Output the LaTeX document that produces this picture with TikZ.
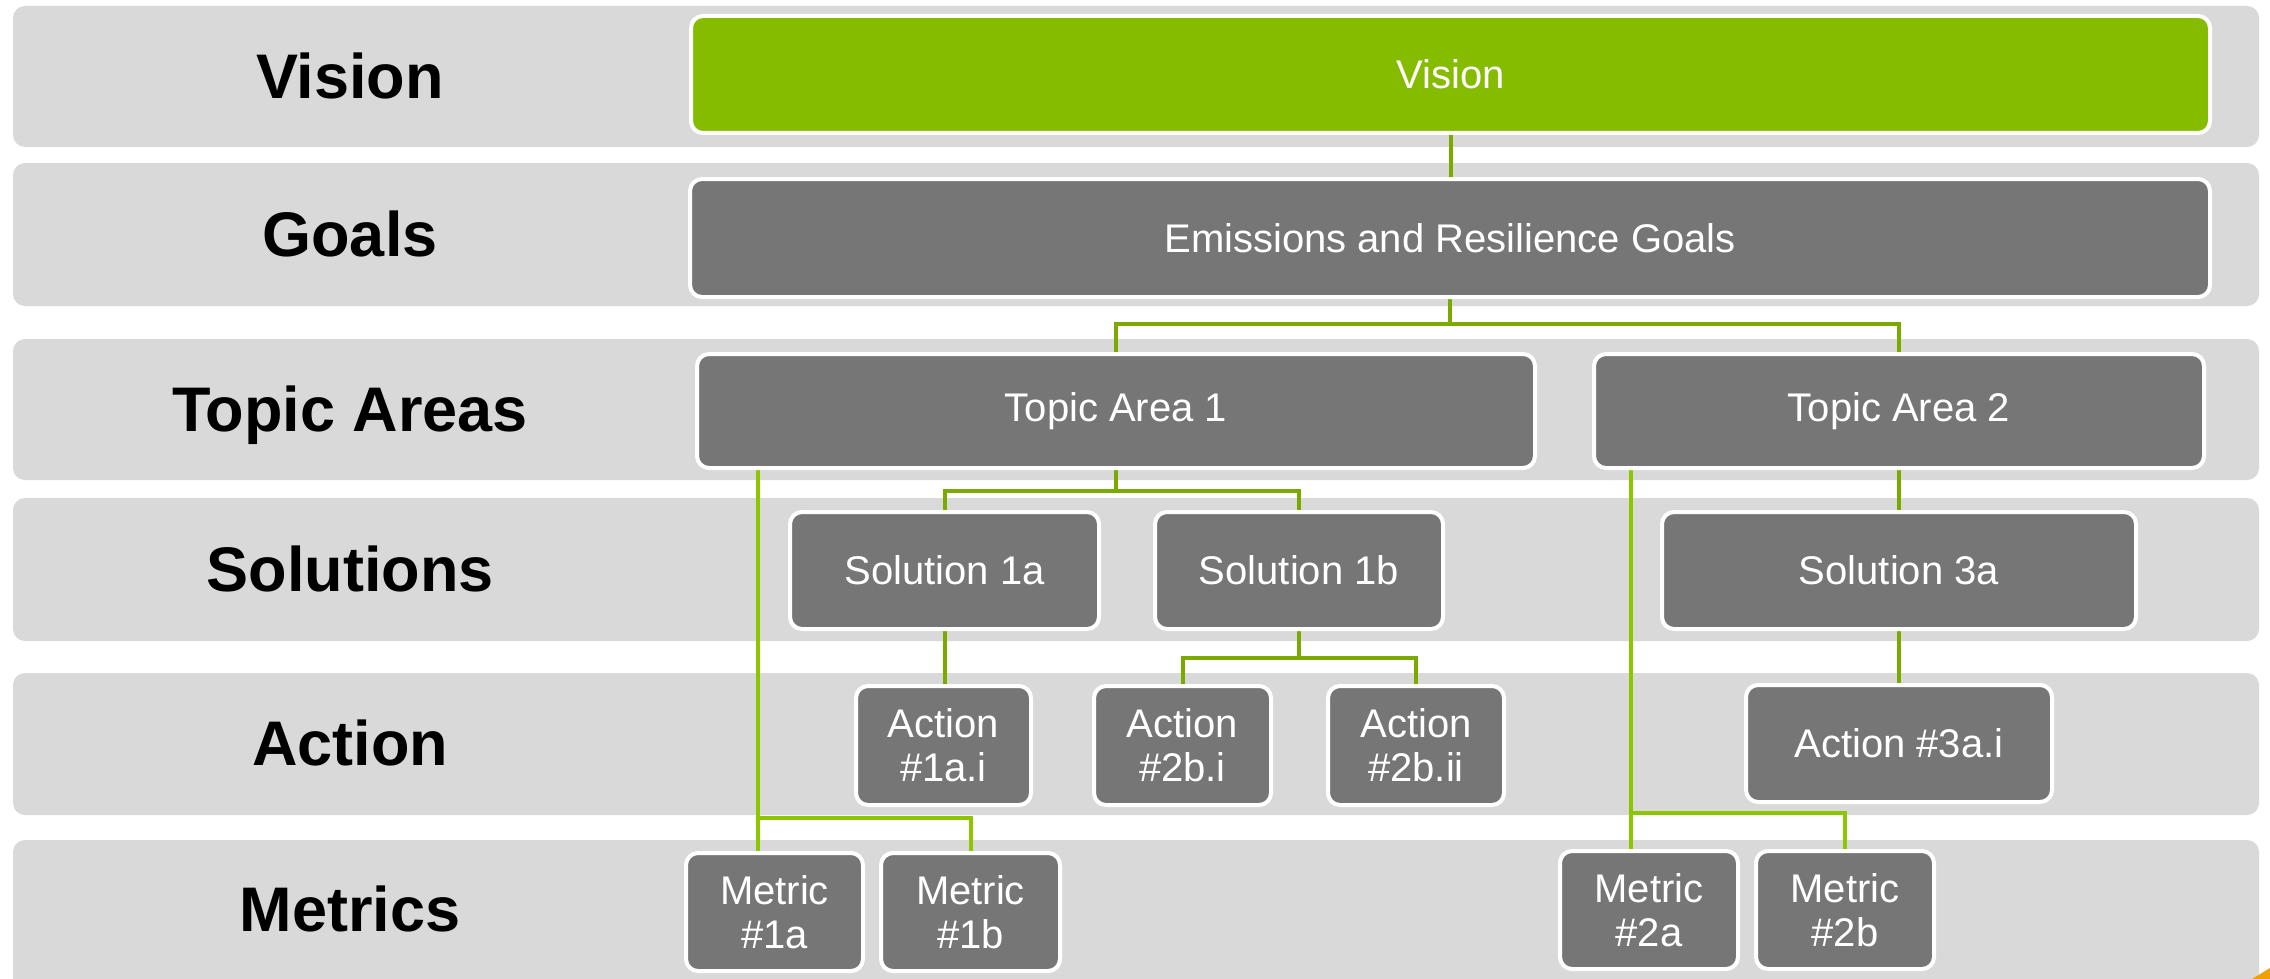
\documentclass[tikz,border=0pt]{standalone}
\usepackage{fontspec}
\setmainfont{Liberation Sans}
\definecolor{bandgrey}{RGB}{217,217,217}
\definecolor{boxgrey}{RGB}{118,118,118}
\definecolor{visgreen}{RGB}{134,188,0}
\definecolor{lngreen}{RGB}{122,170,0}
\definecolor{mgreen}{RGB}{140,198,0}
\definecolor{cornerorange}{RGB}{240,160,0}
\pgfdeclarelayer{bg}
\pgfdeclarelayer{lines}
\pgfsetlayers{bg,lines,main}
\tikzset{
  band/.style={fill=bandgrey, rounded corners=6pt},
  rowlabel/.style={font=\bfseries\fontsize{31.5}{36}\selectfont, text=black, inner sep=0pt, text height=22.6pt, text depth=0pt},
  box/.style={draw=white, line width=2pt, fill=boxgrey, rounded corners=6pt, text=white,
    font=\fontsize{20}{22}\selectfont, align=center, inner sep=0pt},
  greenbox/.style={box, fill=visgreen},
  conn/.style={draw=lngreen, line width=2pt},
  mconn/.style={draw=mgreen, line width=2pt}
}
\begin{document}
\begin{tikzpicture}[x=0.5pt,y=-0.5pt]
\useasboundingbox (0,0) rectangle (2270,979);
\begin{pgfonlayer}{bg}
\clip (0,0) rectangle (2270,979);
\fill[white] (0,0) rectangle (2270,979);
\fill[band] (13,6) rectangle (2259,147);
\fill[band] (13,163) rectangle (2259,306);
\fill[band] (13,339) rectangle (2259,480);
\fill[band] (13,498) rectangle (2259,641);
\fill[band] (13,673) rectangle (2259,815);
\fill[band] (13,840) rectangle (2259,1000);
\fill[cornerorange] (2252,979) -- (2270,968) -- (2270,979) -- cycle;
\end{pgfonlayer}

% row labels
\node[rowlabel] (lvision) at (350,76) {Vision};
\node[rowlabel] (lgoals) at (350,234) {Goals};
\node[rowlabel] (ltopic) at (350,409) {Topic Areas};
\node[rowlabel] (lsol) at (350,569) {Solutions};
\node[rowlabel] (lact) at (350,743) {Action};
\node[rowlabel] (lmet) at (350,909) {Metrics};

% boxes
\node[greenbox, minimum width=759.5pt, minimum height=58.5pt] (vision) at (1450.5,74.5) {Vision};
\node[box, minimum width=760pt, minimum height=59pt] (goals) at (1450,238) {Emissions and Resilience Goals};
\node[box, minimum width=419pt, minimum height=57pt] (ta1) at (1116,411) {Topic Area 1};
\node[box, minimum width=305pt, minimum height=57pt] (ta2) at (1899,411) {Topic Area 2};
\node[box, minimum width=154.5pt, minimum height=58.5pt] (sol1a) at (944.5,570.5) {Solution 1a};
\node[box, minimum width=144pt, minimum height=58.5pt] (sol1b) at (1299,570.5) {Solution 1b};
\node[box, minimum width=237pt, minimum height=58.5pt] (sol3a) at (1899,570.5) {Solution 3a};
\node[box, minimum width=87.5pt, minimum height=59.5pt] (act1a) at (943.5,745.5) {Action\\\#1a.i};
\node[box, minimum width=88.5pt, minimum height=59.5pt] (act2bi) at (1182.5,745.5) {Action\\\#2b.i};
\node[box, minimum width=88pt, minimum height=59.5pt] (act2bii) at (1416,745.5) {Action\\\#2b.ii};
\node[box, minimum width=153pt, minimum height=58.5pt] (act3a) at (1899,743.5) {Action \#3a.i};
\node[box, minimum width=88.5pt, minimum height=59pt] (m1a) at (774.5,912) {Metric\\\#1a};
\node[box, minimum width=89.5pt, minimum height=59pt] (m1b) at (970.5,912) {Metric\\\#1b};
\node[box, minimum width=89pt, minimum height=59pt] (m2a) at (1649,910) {Metric\\\#2a};
\node[box, minimum width=89pt, minimum height=59pt] (m2b) at (1845,910) {Metric\\\#2b};

% junctions
\coordinate (jg) at (1450,324);
\coordinate (jt) at (1116,491);
\coordinate (js) at (1299,658);
\coordinate (jm1) at (758,818);
\coordinate (jm2) at (1631,813);

\begin{pgfonlayer}{lines}
\draw[conn] (vision.center) -- (vision.center |- goals.center);
\draw[conn] (goals.center) -- (jg);
\draw[conn] (ta1.center) |- (jg) -| (ta2.center);
\draw[conn] (ta1.center) -- (jt);
\draw[conn] (sol1a.center) |- (jt) -| (sol1b.center);
\draw[conn] (ta2.center) -- (sol3a.center);
\draw[conn] (sol1a.center) -- (sol1a.center |- act1a.center);
\draw[conn] (sol1b.center) -- (js);
\draw[conn] (act2bi.center) |- (js) -| (act2bii.center);
\draw[conn] (sol3a.center) -- (act3a.center);
\draw[mconn] (ta1.center -| jm1) -- (m1a.center -| jm1);
\draw[mconn] (jm1) -| (m1b.center);
\draw[mconn] (ta2.center -| jm2) -- (m2a.center -| jm2);
\draw[mconn] (jm2) -| (m2b.center);
\end{pgfonlayer}
\end{tikzpicture}
\end{document}
